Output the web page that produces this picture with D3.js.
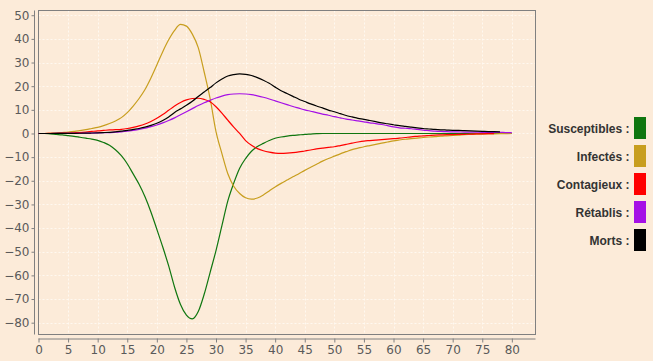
<!DOCTYPE html>
<html>
<head>
<meta charset="utf-8">
<script src="https://cdn.jsdelivr.net/npm/d3@7"></script>
<style>
  html, body { margin: 0; padding: 0; background: #FCEBD9; }
  svg { display: block; }
</style>
</head>
<body>
<svg id="chart" width="653" height="361"></svg>
<script>
// ---- Data (daily values, index = day) ----
const seriesNames = ["Susceptibles", "Infectés", "Contagieux", "Rétablis", "Morts"];
const seriesColors = ["#0F760F", "#C89E1E", "#FF0000", "#A510E6", "#000000"];

const susceptibles = [0,0,-0.2,-0.4,-0.6,-0.9,-1.2,-1.6,-2.0,-2.4,-2.9,-3.8,-5.0,-6.9,-9.4,-12.8,-17.1,-21.5,-26.8,-33.2,-40.5,-48,-56,-65.0,-72.3,-76.8,-78.4,-75.3,-68.0,-58.8,-49.5,-39,-28.5,-21,-14.7,-10.6,-7.5,-5.5,-4.2,-3.0,-2.0,-1.5,-1.1,-0.8,-0.6,-0.4,-0.25,-0.1,0,0,0,0,0,0,0,0,0,0,0,0,0,0,0,0,0,0,0,0,0,0,0,0,0,0,0,0,0,0,0,0,0];
const infectes = [0,0,0.1,0.2,0.4,0.6,0.9,1.2,1.6,2.1,2.6,3.3,4.2,5.3,6.7,8.8,11.6,14.8,18.6,23.5,29.0,34.6,39.6,43.6,46.1,45.4,42.0,36.3,26,14.8,0.8,-8.5,-17,-22.3,-25.4,-27.2,-27.8,-27.3,-26,-24.3,-22.6,-21.1,-19.7,-18.3,-17.0,-15.6,-14.3,-13.0,-11.7,-10.6,-9.6,-8.6,-7.7,-6.8,-6.2,-5.6,-5.1,-4.6,-4.1,-3.6,-3.1,-2.75,-2.45,-2.2,-1.95,-1.7,-1.5,-1.35,-1.15,-1.0,-0.85,-0.7,-0.5,-0.4,-0.3,-0.25,-0.2,-0.15,-0.1,-0.05,0];
const contagieux = [0,0,0.05,0.1,0.15,0.2,0.3,0.4,0.6,0.85,1.1,1.3,1.5,1.6,1.75,2.1,2.6,3.2,4.0,5.1,6.4,8.0,9.8,11.6,13.1,14.2,14.8,14.9,14.4,13.4,11.3,8.6,5.6,2.7,0,-3,-5.0,-6.4,-7.3,-7.9,-8.3,-8.4,-8.3,-8.1,-7.8,-7.4,-7.0,-6.5,-6.2,-5.9,-5.6,-5.1,-4.6,-4.1,-3.6,-3.2,-3.0,-2.8,-2.6,-2.4,-2.2,-2.0,-1.7,-1.4,-1.2,-1.0,-0.85,-0.7,-0.6,-0.5,-0.45,-0.4,-0.35,-0.3,-0.2,-0.15,-0.1,-0.05];
const retablis = [0,0,0,0.02,0.04,0.06,0.08,0.1,0.13,0.17,0.22,0.3,0.4,0.55,0.7,0.95,1.3,1.7,2.2,2.9,3.6,4.5,5.5,6.6,7.9,9.2,10.5,11.8,13.0,14.0,15.0,15.8,16.4,16.7,16.8,16.7,16.4,15.9,15.3,14.6,13.8,13.0,12.2,11.4,10.7,10.0,9.4,8.8,8.2,7.7,7.1,6.6,6.1,5.7,5.3,4.9,4.5,4.2,3.8,3.3,2.8,2.4,2.2,2.0,1.7,1.4,1.2,1.0,0.85,0.75,0.7,0.65,0.6,0.6,0.55,0.5,0.5,0.45,0.45,0.4,0.4];
const morts = [0,0,0,0.02,0.04,0.06,0.08,0.1,0.14,0.2,0.28,0.38,0.5,0.7,1.0,1.3,1.7,2.1,2.7,3.4,4.3,5.5,7.0,8.9,10.4,11.9,13.6,15.6,17.5,19.4,21.4,23.0,24.3,24.9,25.2,25.0,24.5,23.6,22.5,21.2,19.6,18.1,16.9,15.7,14.5,13.5,12.5,11.6,10.8,9.9,9.2,8.4,7.6,7.0,6.4,6.0,5.5,5.0,4.5,4.1,3.7,3.3,3.0,2.7,2.4,2.1,1.9,1.7,1.55,1.45,1.35,1.3,1.2,1.1,1.0,0.9,0.8,0.75,0.7];

const xTicks = [0,5,10,15,20,25,30,35,40,45,50,55,60,65,70,75,80];
const yTicks = [-80,-70,-60,-50,-40,-30,-20,-10,0,10,20,30,40,50];

const allSeries = [susceptibles, infectes, contagieux, retablis, morts];

// ---- Layout ----
const svg = d3.select("#chart");
const plot = { left: 38.5, top: 10.5, right: 535.5, bottom: 334.5 };

const x = d3.scaleLinear().domain([0, 84]).range([plot.left, plot.right]);
const y = d3.scaleLinear().domain([-85, 52]).range([plot.bottom, plot.top]);

// background
svg.append("rect").attr("width", 653).attr("height", 361).attr("fill", "#FCEBD9");

// grid
const grid = svg.append("g").attr("stroke", "#FFF8F0").attr("stroke-width", 1).attr("stroke-dasharray", "2,2");
grid.selectAll("line.v").data(xTicks.filter(d => d > 0)).join("line")
  .attr("x1", d => Math.round(x(d)) + 0.5).attr("x2", d => Math.round(x(d)) + 0.5)
  .attr("y1", plot.top).attr("y2", plot.bottom);
grid.selectAll("line.h").data(yTicks).join("line")
  .attr("y1", d => Math.round(y(d)) + 0.5).attr("y2", d => Math.round(y(d)) + 0.5)
  .attr("x1", plot.left).attr("x2", plot.right);

// plot border
svg.append("rect")
  .attr("x", plot.left).attr("y", plot.top)
  .attr("width", plot.right - plot.left).attr("height", plot.bottom - plot.top)
  .attr("fill", "none").attr("stroke", "#808080").attr("stroke-width", 1);

// axes
const fontAxis = "'DejaVu Sans', Verdana, sans-serif";
const yAxis = d3.axisLeft(y).tickValues(yTicks).tickSize(3).tickSizeOuter(0).tickPadding(2);
const gy = svg.append("g").attr("transform", "translate(34.5,0)").call(yAxis);
const xAxis = d3.axisBottom(x).tickValues(xTicks).tickSize(4).tickSizeOuter(0).tickPadding(3);
const gx = svg.append("g").attr("transform", "translate(0,338.5)").call(xAxis);
[gx, gy].forEach(g => {
  g.select(".domain").attr("stroke", "#808080");
  g.selectAll(".tick line").attr("stroke", "#808080");
  g.selectAll(".tick text").attr("fill", "#5a5a5a").style("font-family", fontAxis).style("font-size", "12px");
});
gx.select(".domain").attr("d", `M${plot.left},0.5H${plot.right}`);
gy.select(".domain").attr("d", `M0,${plot.top}V${plot.bottom}`);

// lines
const line = d3.line().x((d, i) => x(i)).y(d => y(d)).curve(d3.curveMonotoneX);
const linesG = svg.append("g").attr("fill", "none").attr("stroke-width", 1.2);
allSeries.forEach((s, k) => {
  linesG.append("path").datum(s).attr("d", line).attr("stroke", seriesColors[k]);
});

// legend
const legendY = d3.scalePoint().domain(seriesNames).range([128, 240]);
const lg = svg.append("g");
seriesNames.forEach((n, k) => {
  const cy = legendY(n);
  lg.append("text").attr("x", 629.5).attr("y", cy + 4.5)
    .attr("text-anchor", "end")
    .style("font-family", "'Liberation Sans', Arial, sans-serif")
    .style("font-weight", "bold").style("font-size", "12px")
    .attr("fill", "#333333").text(n + " :");
  lg.append("rect").attr("x", 634).attr("y", cy - 11).attr("width", 12).attr("height", 22)
    .attr("fill", seriesColors[k]);
});
</script>
</body>
</html>
